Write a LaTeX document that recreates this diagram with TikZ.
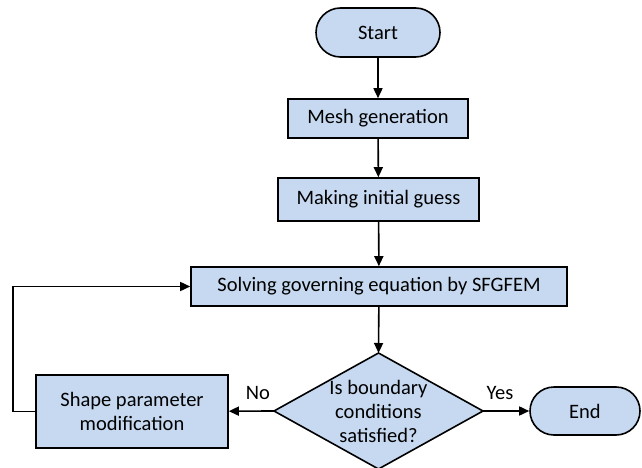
\documentclass[tikz,border=0pt]{standalone}
\usepackage{fontspec}
\setmainfont{Carlito}
\usetikzlibrary{shapes.geometric,shapes.misc,arrows.meta}
\definecolor{boxfill}{HTML}{C6D9F1}
\begin{document}
\begin{tikzpicture}[x=1pt,y=-1pt,
  base/.style={draw=black,line width=1.6pt,fill=boxfill,font=\fontsize{20.5}{24}\selectfont,inner sep=0pt,align=center},
  procbox/.style={base,rectangle},
  termbox/.style={base,rounded rectangle},
  conn/.style={line width=1.6pt,-{Triangle[length=10pt,width=9pt]}},
  lbl/.style={font=\fontsize{20.5}{24}\selectfont}]
\useasboundingbox (0,0) rectangle (642,468);
\node[termbox,minimum width=124,minimum height=49] (start) at (378,32.5) {Start};
\node[procbox,minimum width=180,minimum height=39] (mesh) at (378,118.5) {Mesh generation};
\node[procbox,minimum width=201,minimum height=43] (guess) at (378.5,199.5) {Making initial guess};
\node[procbox,minimum width=376,minimum height=39] (solve) at (379,286.5) {Solving governing equation by SFGFEM};
\draw[base] (378.5,353) -- (483,411) -- (378.5,469) -- (274,411) -- cycle;
\node[base,draw=none,fill=none] (dec) at (378.5,411) {Is boundary\\conditions\\satisfied?};
\coordinate (dtop) at (378.5,353);
\coordinate (dleft) at (274,411);
\coordinate (dright) at (483,411);
\node[procbox,minimum width=192,minimum height=73] (shape) at (132,411.5) {Shape parameter\\modification};
\node[termbox,minimum width=110,minimum height=48] (end) at (585,411) {End};
\draw[conn] (start) -- (mesh);
\draw[conn] (mesh) -- (guess);
\draw[conn] (guess) -- (solve);
\draw[conn] (solve) -- (dtop);
\draw[conn] (dleft) -- (shape);
\draw[conn] (dright) -- (end);
\draw[conn] (shape.west) -- (13,411.5) |- (solve.west);
\node[lbl] (no) at (258,393) {No};
\node[lbl] (yes) at (500,393) {Yes};
\end{tikzpicture}
\end{document}
